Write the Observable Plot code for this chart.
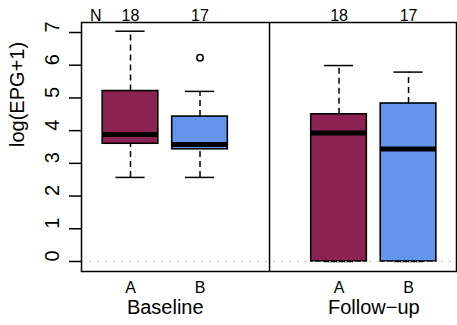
<!DOCTYPE html>
<html>
<head>
<meta charset="utf-8">
<script src="https://cdn.jsdelivr.net/npm/d3@7"></script>
<script src="https://cdn.jsdelivr.net/npm/@observablehq/plot@0.6"></script>
<style>
  html, body { margin: 0; padding: 0; background: #fff; }
  svg { display: block; }
</style>
</head>
<body>
<div id="chart"></div>
<script>
// ---- data ----
const groups      = ["Baseline", "Baseline", "Follow−up", "Follow−up"];
const arms        = ["A", "B", "A", "B"];
const positions   = [1, 2, 4, 5];
const counts      = [18, 17, 18, 17];
const whiskerLow  = [2.57, 2.57, 0, 0];
const q1          = [3.60, 3.43, 0, 0];
const medians     = [3.88, 3.58, 3.93, 3.44];
const q3          = [5.21, 4.43, 4.50, 4.83];
const whiskerHigh = [7.04, 5.20, 5.99, 5.79];
const outlierPos  = [2];
const outlierVal  = [6.23];
const yTicks      = [0, 1, 2, 3, 4, 5, 6, 7];
const groupNames  = ["Baseline", "Follow−up"];
const armColors   = {A: "#8B2252", B: "#6495ED"};

const rows = positions.map((p, i) => ({
  pos: p, group: groups[i], arm: arms[i], n: counts[i],
  lo: whiskerLow[i], q1: q1[i], med: medians[i], q3: q3[i], hi: whiskerHigh[i]
}));
const outliers = outlierPos.map((p, i) => ({pos: p, value: outlierVal[i]}));
const groupCenters = groupNames.map(g => {
  const ps = rows.filter(r => r.group === g).map(r => r.pos);
  return {name: g, pos: d3.mean(ps)};
});
const divider = d3.mean([rows[1].pos, rows[2].pos]);

const boxHalf = 0.4, capHalf = 0.21;
const font = "'Liberation Sans', Arial, Helvetica, sans-serif";

const chart = Plot.plot({
  width: 457,
  height: 325,
  marginLeft: 81,
  marginRight: 1,
  marginTop: 22,
  marginBottom: 54,
  style: {fontFamily: font, background: "#fff", color: "#000"},
  x: {domain: [0.295, 5.69], axis: null},
  y: {domain: [-0.306, 7.306], axis: null},
  marks: [
    // whiskers
    Plot.ruleX(rows, {x: "pos", y1: "q3", y2: "hi", stroke: "#000", strokeWidth: 1.5, strokeDasharray: "6,4"}),
    Plot.ruleX(rows, {x: "pos", y1: "lo", y2: "q1", stroke: "#000", strokeWidth: 1.5, strokeDasharray: "6,4"}),
    // caps
    Plot.ruleY(rows, {y: "hi", x1: d => d.pos - capHalf, x2: d => d.pos + capHalf, stroke: "#000", strokeWidth: 1.5}),
    Plot.ruleY(rows, {y: "lo", x1: d => d.pos - capHalf, x2: d => d.pos + capHalf, stroke: "#000", strokeWidth: 1.5}),
    // boxes
    Plot.rect(rows, {x1: d => d.pos - boxHalf, x2: d => d.pos + boxHalf, y1: "q1", y2: "q3",
      fill: d => armColors[d.arm], stroke: "#000", strokeWidth: 1.6}),
    // medians
    Plot.ruleY(rows, {y: "med", x1: d => d.pos - boxHalf, x2: d => d.pos + boxHalf, stroke: "#000", strokeWidth: 5}),
    // outliers
    Plot.dot(outliers, {x: "pos", y: "value", r: 3.2, stroke: "#000", strokeWidth: 1.5, fill: "#fff"}),
    // zero reference line
    Plot.ruleY([0], {stroke: "#b0b0b0", strokeWidth: 1.2, strokeDasharray: "1.5,6.5"}),
    // divider between groups
    Plot.ruleX([divider], {stroke: "#000", strokeWidth: 1.5}),
    Plot.frame({stroke: "#000", strokeWidth: 1.5}),
    // y axis
    Plot.axisY({ticks: yTicks, tickSize: 12, tickFormat: () => "", label: null, strokeWidth: 1.5}),
    Plot.text(yTicks, {y: d => d, text: d => String(d), frameAnchor: "left", dx: -29, rotate: -90,
      fontSize: 20, fill: "#000"}),
    Plot.text(["log(EPG+1)"], {frameAnchor: "left", dx: -64, rotate: -90, fontSize: 20, fill: "#000"}),
    // N row
    Plot.text(["N"], {x: () => 0.5, text: d => d, frameAnchor: "top", dy: -13, fontSize: 16, fill: "#000"}),
    Plot.text(rows, {x: "pos", text: d => String(d.n), frameAnchor: "top", dy: -13, fontSize: 16, fill: "#000"}),
    // arm labels
    Plot.text(rows, {x: "pos", text: "arm", frameAnchor: "bottom", dy: 21, fontSize: 16, fill: "#000"}),
    // group labels
    Plot.text(groupCenters, {x: "pos", text: "name", frameAnchor: "bottom", dy: 42, fontSize: 20, fill: "#000"})
  ]
});
document.getElementById("chart").appendChild(chart);
</script>
</body>
</html>
